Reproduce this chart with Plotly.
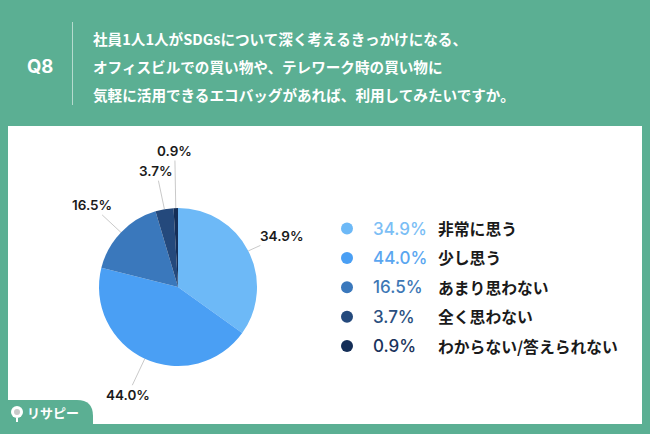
import math
import plotly.graph_objects as go

# ---- data ----
categories = ["非常に思う", "少し思う", "あまり思わない", "全く思わない", "わからない/答えられない"]
values = [34.9, 44.0, 16.5, 3.7, 0.9]
slice_colors = ["#6DB9F7", "#4A9FF4", "#3A78BC", "#24497C", "#142E57"]
legend_text_colors = ["#7BBEF5", "#5AA6F0", "#3D77B5", "#2A4F80", "#1A335C"]
question_no = "Q8"
title_lines = [
    "社員1人1人がSDGsについて深く考えるきっかけになる、",
    "オフィスビルでの買い物や、テレワーク時の買い物に",
    "気軽に活用できるエコバッグがあれば、利用してみたいですか。",
]
brand = "リサピー"

W, H = 650, 434
GREEN = "#5BAF93"
JP = "Noto Sans CJK JP"
NUM = "Inter"


def px(x):
    return x / W


def py(y):
    return 1 - y / H


# pie geometry (pixels)
cx, cy, r = 178, 287, 79
# label offsets in pixels (text center relative to slice-edge anchor)
label_offsets = [(33, -15), (-17, 36), (-29, -27), (-8, -38), (-1, -57)]

fig = go.Figure()
fig.add_trace(go.Pie(
    labels=categories,
    values=values,
    sort=False,
    direction="clockwise",
    rotation=0,
    marker=dict(colors=slice_colors, line=dict(width=0)),
    textinfo="none",
    hoverinfo="label+percent",
    showlegend=False,
    domain=dict(x=[px(cx - r), px(cx + r)], y=[py(cy + r), py(cy - r)]),
))

shapes = []
annotations = []

# white panel
shapes.append(dict(type="rect", xref="paper", yref="paper", x0=px(8), x1=px(642),
                   y0=py(424), y1=py(126), fillcolor="white", line=dict(width=0), layer="below"))
# title divider
shapes.append(dict(type="line", xref="paper", yref="paper", x0=px(72.5), x1=px(72.5),
                   y0=py(22), y1=py(105), line=dict(color="rgba(255,255,255,0.55)", width=1)))
# brand tab (rounded top-right)
rt = 16
path = (f"M {px(0)},{py(434)} L {px(0)},{py(400)} L {px(93 - rt)},{py(400)} "
        f"Q {px(93)},{py(400)} {px(93)},{py(400 + rt)} L {px(93)},{py(434)} Z")
shapes.append(dict(type="path", xref="paper", yref="paper", path=path,
                   fillcolor=GREEN, line=dict(width=0)))
# brand icon
shapes.append(dict(type="circle", xref="paper", yref="paper", x0=px(11), x1=px(23),
                   y0=py(418), y1=py(406), fillcolor="white", line=dict(width=0)))
shapes.append(dict(type="circle", xref="paper", yref="paper", x0=px(14), x1=px(20),
                   y0=py(415), y1=py(409), fillcolor="#C9C9C9", line=dict(width=0)))
shapes.append(dict(type="line", xref="paper", yref="paper", x0=px(17), x1=px(17),
                   y0=py(418), y1=py(422), line=dict(color="white", width=2)))

annotations.append(dict(text=brand, x=px(25), y=py(412.5), xref="paper", yref="paper",
                        xanchor="left", yanchor="middle", showarrow=False,
                        font=dict(family=JP, size=13, color="white", weight="bold")))

# title
annotations.append(dict(text=question_no, x=px(40), y=py(66), xref="paper", yref="paper",
                        xanchor="center", yanchor="middle", showarrow=False,
                        font=dict(family=NUM, size=18.5, color="white", weight="bold")))
for i, line in enumerate(title_lines):
    annotations.append(dict(text=line, x=px(91), y=py(38.5 + i * 28), xref="paper", yref="paper",
                            xanchor="left", yanchor="middle", showarrow=False,
                            font=dict(family=JP, size=14.6, color="white", weight="bold")))

# pie outside labels with leader lines
total = sum(values)
cum = 0.0
for v, (ox, oy) in zip(values, label_offsets):
    mid = (cum + v / 2) / total * 2 * math.pi
    cum += v
    ax_px = cx + r * math.sin(mid)
    ay_px = cy - r * math.cos(mid)
    annotations.append(dict(text=f"{v:.1f}%", x=px(ax_px), y=py(ay_px), xref="paper", yref="paper",
                            ax=ox, ay=oy, showarrow=True, arrowhead=0, arrowwidth=0.8,
                            arrowcolor="#BBBBBB", standoff=0, startstandoff=0,
                            font=dict(family=NUM, size=13.5, color="#1A1A1A", weight=600)))

# custom legend
row0, step = 228.5, 29.4
for i, (cat, v) in enumerate(zip(categories, values)):
    yy = row0 + i * step
    shapes.append(dict(type="circle", xref="paper", yref="paper", x0=px(341), x1=px(353),
                       y0=py(yy + 6), y1=py(yy - 6), fillcolor=slice_colors[i], line=dict(width=0)))
    annotations.append(dict(text=f"{v:.1f}%", x=px(371), y=py(yy), xref="paper", yref="paper",
                            xanchor="left", yanchor="middle", showarrow=False,
                            font=dict(family=NUM, size=17, color=legend_text_colors[i], weight=500)))
    annotations.append(dict(text=cat, x=px(436), y=py(yy), xref="paper", yref="paper",
                            xanchor="left", yanchor="middle", showarrow=False,
                            font=dict(family=JP, size=15.8, color="#1A1A1A", weight="bold")))

fig.update_layout(
    width=W, height=H,
    margin=dict(l=0, r=0, t=0, b=0),
    paper_bgcolor=GREEN,
    plot_bgcolor=GREEN,
    shapes=shapes,
    annotations=annotations,
    showlegend=False,
)

fig.write_html("out.html")
